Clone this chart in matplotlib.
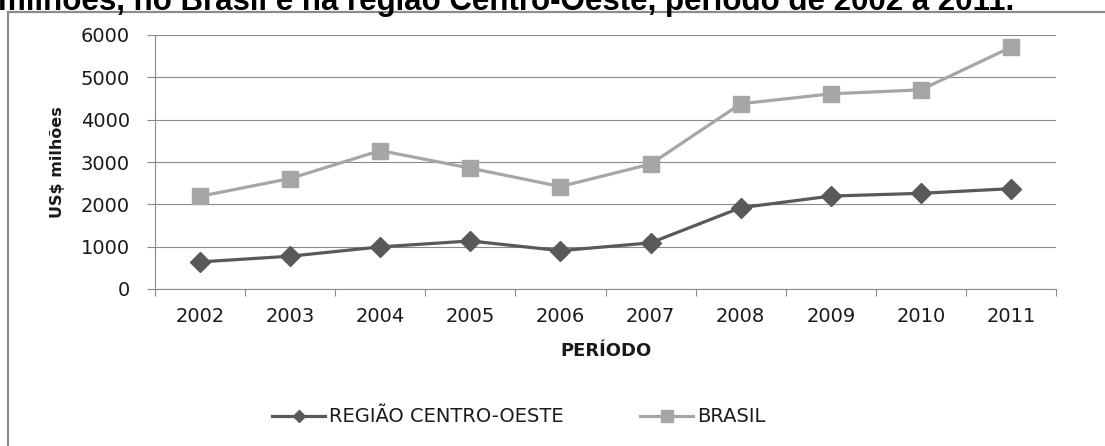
import numpy as np
import matplotlib
matplotlib.use("Agg")
import matplotlib.pyplot as plt
from matplotlib.patches import Rectangle
from matplotlib.lines import Line2D

# data
anos = ["2002", "2003", "2004", "2005", "2006", "2007", "2008", "2009", "2010", "2011"]
centro_oeste = [640, 775, 995, 1135, 905, 1090, 1920, 2195, 2260, 2370]
brasil = [2190, 2610, 3270, 2855, 2420, 2950, 4375, 4610, 4705, 5710]
titulo = "milhões, no Brasil e na região Centro-Oeste, período de 2002 a 2011."

W, H = 1105, 446
fig = plt.figure(figsize=(W / 100, H / 100), dpi=100)

# outer chart frame (runs off the right/bottom edge)
fig.patches.append(Rectangle((8 / W, -0.2), 1.5, 1.2 - 12 / H,
                             transform=fig.transFigure, fill=False,
                             edgecolor="#8c8c8c", lw=1.6))

# title is cut at the top edge in the reference
fig.text(-0.002, 1 - 10 / H, titulo, fontsize=22.5, fontweight="bold",
         family="Liberation Sans", va="baseline", ha="left", color="black")

ax = fig.add_axes([155 / W, 1 - 289 / H, 901 / W, 254 / H])
x = np.arange(len(anos))
grid_c = "#8a8a8a"

ax.plot(x, brasil, color="#a6a6a6", lw=2.3, marker="s", ms=12,
        zorder=3, clip_on=False)
ax.plot(x, centro_oeste, color="#595959", lw=2.3, marker="D", ms=10,
        zorder=4, clip_on=False)

ax.set_xlim(-0.5, len(anos) - 0.5)
ax.set_ylim(0, 6000)
ax.set_yticks(range(0, 6001, 1000))
ax.yaxis.grid(True, color=grid_c, lw=0.8)
ax.set_axisbelow(True)

ax.set_xticks(np.arange(-0.5, len(anos), 1.0))
ax.set_xticklabels([])
ax.set_xticks(x, minor=True)
ax.set_xticklabels(anos, minor=True)
ax.tick_params(axis="x", which="major", length=5, color=grid_c, width=0.8)
ax.tick_params(axis="x", which="minor", length=0, pad=13, labelsize=14,
               labelcolor="#1a1a1a")
ax.tick_params(axis="y", length=6, color=grid_c, width=0.8, pad=12,
               labelsize=14, labelcolor="#1a1a1a")

for s in ["top", "right"]:
    ax.spines[s].set_visible(False)
for s in ["left", "bottom"]:
    ax.spines[s].set_color(grid_c)
    ax.spines[s].set_linewidth(0.8)

ax.set_ylabel("US$ milhões", fontsize=11.5, fontweight="bold", color="#1a1a1a")
ax.yaxis.set_label_coords(-0.1, 0.5)
ax.set_xlabel("PERÍODO", fontsize=13, fontweight="bold", color="#1a1a1a")
ax.xaxis.set_label_coords(0.5, -0.21)

handles = [
    Line2D([], [], color="#595959", lw=2.3, marker="D", ms=6.5),
    Line2D([], [], color="#a6a6a6", lw=2.3, marker="s", ms=9),
]
fig.legend(handles, ["REGIÃO CENTRO-OESTE", "BRASIL"], ncol=2,
           loc="center left", bbox_to_anchor=(272 / W, 1 - 417 / H),
           frameon=False, fontsize=14, handlelength=2.75, handletextpad=0.2,
           columnspacing=3.9, borderpad=0, borderaxespad=0,
           labelcolor="#1a1a1a")

fig.savefig("out.png", dpi=100)
